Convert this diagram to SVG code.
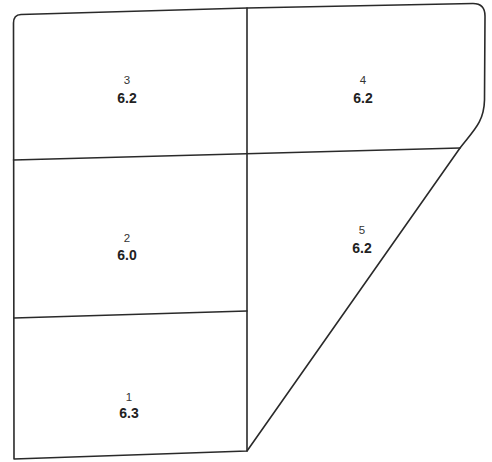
<svg xmlns="http://www.w3.org/2000/svg" width="492" height="462" viewBox="0 0 492 462">
<style>
.ln{fill:none;stroke:#2a2a2a;stroke-width:1.6;stroke-linejoin:round;stroke-linecap:round}
.id{font-family:"Liberation Sans",Arial,sans-serif;font-size:11.5px;fill:#333;text-anchor:middle}
.v{font-family:"Liberation Sans",Arial,sans-serif;font-size:14px;font-weight:bold;fill:#222;text-anchor:middle}
</style>
<rect width="492" height="462" fill="#fff"/>
<g id="outline">
<path class="ln" d="M 21 14.5 L 247 8 L 473 3.5 Q 485 3.5 485 16 L 484.5 100 C 484 122 474 130 460 148 L 247 451 L 14 459 L 13.5 23 Q 13.5 14.8 21 14.5 Z"/>
</g>
<g id="dividers">
<line class="ln" x1="247" y1="8" x2="247" y2="451"/>
<line class="ln" x1="13.5" y1="160" x2="460" y2="148"/>
<line class="ln" x1="14" y1="318" x2="247" y2="311"/>
</g>
<g id="zone3"><text class="id" x="127" y="84">3</text><text class="v" x="127" y="103">6.2</text></g>
<g id="zone4"><text class="id" x="363" y="84">4</text><text class="v" x="363" y="103">6.2</text></g>
<g id="zone2"><text class="id" x="127" y="242">2</text><text class="v" x="127" y="260">6.0</text></g>
<g id="zone5"><text class="id" x="362" y="234">5</text><text class="v" x="362" y="253">6.2</text></g>
<g id="zone1"><text class="id" x="129" y="401">1</text><text class="v" x="129" y="418">6.3</text></g>
</svg>
